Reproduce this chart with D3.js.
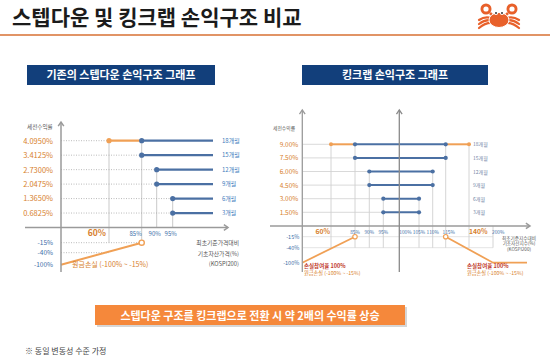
<!DOCTYPE html>
<html><head><meta charset="utf-8">
<script src="https://cdn.jsdelivr.net/npm/d3@7"></script>
<style>
body{margin:0;background:#fff;}
svg{display:block;font-family:"Noto Sans CJK KR","Noto Sans",sans-serif;}
</style></head>
<body><svg id="c" width="550" height="361"></svg>
<script>
// ---------- data ----------
const titleText = "스텝다운 및 킹크랩 손익구조 비교";
const leftHeader = "기존의 스텝다운 손익구조 그래프";
const rightHeader = "킹크랩 손익구조 그래프";
const bottomMessage = "스텝다운 구조를 킹크랩으로 전환 시 약 2배의 수익률 상승";
const footnote = "※ 동일 변동성 수준 가정";

const months = ["18개월","15개월","12개월","9개월","6개월","3개월"];

// left (step-down)
const leftYields = [4.095, 3.4125, 2.73, 2.0475, 1.365, 0.6825];
const leftYieldLabels = ["4.0950%","3.4125%","2.7300%","2.0475%","1.3650%","0.6825%"];
const leftBarrier = [85, 85, 90, 90, 95, 95];
const leftKnockIn = 60;
const leftLineEnd = 120;
const leftXTicks = [60, 85, 90, 95];
const lossLevels = [-15, -40, -100];
const leftLoss = [[0, -100], [85, -15]];

// right (king crab)
const rightYields = [9, 7.5, 6, 4.5, 3, 1.5];
const rightYieldLabels = ["9.00%","7.50%","6.00%","4.50%","3.00%","1.50%"];
const rightLow = [85, 85, 90, 90, 95, 95];
const rightHigh = [115, 115, 110, 110, 105, 105];
const rightKnockLow = 60, rightKnockHigh = 140;
const rightXTicks = [60, 85, 90, 95, 100, 105, 110, 115, 140, 200];
const rightLossLeft = [[0, -100], [85, -15]];
const rightLossRight = [[115, -15], [200, -100], [230, -100]];

// ---------- style ----------
const C = {
  orange:"#f0a055", ylab:"#d7812e", blue:"#4b70a3", grid:"#c9c9c9", axis:"#9a9a9a",
  navy:"#123f7b", month:"#3f7dbd", neg:"#3d6ea8", red:"#c0392b", text:"#333"
};
const svg = d3.select("#c");
const F = '"Noto Sans CJK KR","Noto Sans",sans-serif';

// title
svg.append("text").attr("x",12).attr("y",25).attr("font-size",21).attr("font-weight","bold")
  .attr("fill","#1b1b1b").text(titleText);
svg.append("line").attr("x1",0).attr("x2",550).attr("y1",35).attr("y2",35)
  .attr("stroke","#e19466").attr("stroke-width",2.2);

// crab logo
(function(){
  const g = svg.append("g").attr("transform","translate(499,16)");
  const col="#e8602a";
  [-1,1].forEach(s=>{
    [0,4,8].forEach((dy,i)=>{
      g.append("path").attr("d",`M${s*8},${2+dy*0.6} q${s*6},${-2+i} ${s*12},${2+dy*0.4}`)
        .attr("fill","none").attr("stroke",col).attr("stroke-width",2.2).attr("stroke-linecap","round");
    });
    g.append("circle").attr("cx",s*13).attr("cy",-7).attr("r",5.5).attr("fill",col);
    g.append("circle").attr("cx",s*13).attr("cy",-7).attr("r",2.6).attr("fill","#fff");
    g.append("line").attr("x1",s*9).attr("y1",-3).attr("x2",s*5).attr("y2",1).attr("stroke",col).attr("stroke-width",2.5);
  });
  g.append("ellipse").attr("cx",0).attr("cy",4).attr("rx",10).attr("ry",7.5).attr("fill",col)
    .attr("stroke","#fff").attr("stroke-width",1);
  g.append("circle").attr("cx",-3).attr("cy",-3).attr("r",2).attr("fill","#fff");
  g.append("circle").attr("cx",3).attr("cy",-3).attr("r",2).attr("fill","#fff");
  g.append("circle").attr("cx",-3).attr("cy",-3).attr("r",1).attr("fill","#333");
  g.append("circle").attr("cx",3).attr("cy",-3).attr("r",1).attr("fill","#333");
})();

// headers
function header(x0,x1,txt){
  svg.append("rect").attr("x",x0).attr("y",65).attr("width",x1-x0).attr("height",20).attr("fill",C.navy);
  svg.append("text").attr("x",(x0+x1)/2).attr("y",79).attr("text-anchor","middle")
    .attr("font-size",11).attr("font-weight","bold").attr("fill","#fff").text(txt);
}
header(27,215,leftHeader);
header(302,488,rightHeader);

function arrowLine(x1,y1,x2,y2,color,w){
  svg.append("line").attr("x1",x1).attr("y1",y1).attr("x2",x2).attr("y2",y2)
    .attr("stroke",color).attr("stroke-width",w);
  const a = Math.atan2(y2-y1,x2-x1), L=5;
  const p = [[x2-L*Math.cos(a-0.6), y2-L*Math.sin(a-0.6)],[x2,y2],[x2-L*Math.cos(a+0.6), y2-L*Math.sin(a+0.6)]];
  svg.append("path").attr("d",d3.line()(p)).attr("fill","none").attr("stroke",color).attr("stroke-width",w);
}

// ================= LEFT CHART =================
const xL = d3.scaleLinear().domain([0,60,85,90,95,leftLineEnd]).range([61,109,141.7,156.7,172.7,213]);
const yL = d3.scaleLinear().domain([-100,-40,-15,0,4.095]).range([264.7,252.7,242.7,227.5,140.7]);
const gL = svg.append("g");

leftXTicks.forEach(t=>{
  const rows = leftBarrier.map((b,i)=>b===t?i:-1).filter(i=>i>=0);
  let top = rows.length? yL(leftYields[rows[0]]) : yL(leftYields[0]);
  let bottom = yL(0);
  if(t===leftKnockIn){ top=yL(leftYields[0]); bottom=yL(-15); }
  if(t===85){ bottom=yL(-15); }
  gL.append("line").attr("x1",xL(t)).attr("x2",xL(t)).attr("y1",top).attr("y2",bottom)
    .attr("stroke",C.grid).attr("stroke-width",1);
});
leftYields.forEach((v,i)=>{
  const x2 = i===0 ? xL(leftKnockIn) : xL(leftBarrier[i]);
  gL.append("line").attr("x1",xL(0)).attr("x2",x2).attr("y1",yL(v)).attr("y2",yL(v))
    .attr("stroke","#aaa").attr("stroke-dasharray","1,1.5").attr("stroke-width",0.8);
});
[[-15,85],[-40,60]].forEach(([lv,xe])=>{
  gL.append("line").attr("x1",xL(0)).attr("x2",xL(xe)).attr("y1",yL(lv)).attr("y2",yL(lv))
    .attr("stroke","#aaa").attr("stroke-dasharray","1,1.5").attr("stroke-width",0.8);
});
arrowLine(25,yL(0),228,yL(0),C.axis,1.5);
arrowLine(xL(0),272,xL(0),122,C.axis,1.5);

gL.append("line").attr("x1",xL(leftKnockIn)).attr("x2",xL(leftBarrier[0])).attr("y1",yL(leftYields[0])).attr("y2",yL(leftYields[0]))
  .attr("stroke",C.orange).attr("stroke-width",2.2);
gL.append("circle").attr("cx",xL(leftKnockIn)).attr("cy",yL(leftYields[0])).attr("r",2.6).attr("fill",C.orange);
leftYields.forEach((v,i)=>{
  gL.append("line").attr("x1",xL(leftBarrier[i])).attr("x2",xL(leftLineEnd)).attr("y1",yL(v)).attr("y2",yL(v))
    .attr("stroke",C.blue).attr("stroke-width",2.2);
  gL.append("circle").attr("cx",xL(leftBarrier[i])).attr("cy",yL(v)).attr("r",2.6).attr("fill",C.blue);
  gL.append("text").attr("x",xL(leftLineEnd)+9).attr("y",yL(v)+2).attr("font-size",6).attr("fill",C.month).text(months[i]);
});
gL.append("g").attr("transform",`translate(${xL(0)},0)`)
  .call(d3.axisLeft(yL).tickValues(leftYields).tickSize(0).tickPadding(8).tickFormat((d,i)=>leftYieldLabels[i]))
  .call(g=>g.select(".domain").remove())
  .selectAll("text").attr("font-family",F).attr("font-size",7.5).attr("fill",C.ylab);
gL.append("g").attr("transform",`translate(${xL(0)},0)`)
  .call(d3.axisLeft(yL).tickValues(lossLevels).tickSize(0).tickPadding(8).tickFormat(d=>d+"%"))
  .call(g=>g.select(".domain").remove())
  .selectAll("text").attr("font-family",F).attr("font-size",6.5).attr("fill",C.neg);
leftXTicks.forEach(t=>{
  const big = t===leftKnockIn;
  gL.append("text").attr("x",xL(t)+(big?-3:(t===85?0:-2))).attr("y",yL(0)+8)
    .attr("text-anchor",big||t===85?"end":"middle")
    .attr("font-size",big?8.5:6).attr("font-weight",big?"bold":"normal")
    .attr("fill",big?C.ylab:C.neg).text(t+"%");
});
gL.append("path").attr("d",d3.line().x(d=>xL(d[0])).y(d=>yL(d[1]))(leftLoss))
  .attr("fill","none").attr("stroke",C.orange).attr("stroke-width",2);
gL.append("circle").attr("cx",xL(85)).attr("cy",yL(-15)).attr("r",2.6).attr("fill","#fff")
  .attr("stroke",C.orange).attr("stroke-width",1.4);
gL.append("text").attr("x",72).attr("y",yL(-100)+2.5).attr("font-size",7).attr("fill",C.ylab).text("원금손실 (-100% ~ -15%)");
["최초기준가격대비","기초자산가격(%)","(KOSPI200)"].forEach((s,i)=>{
  gL.append("text").attr("x",239).attr("y",245+i*10.5).attr("text-anchor","end").attr("font-size",5.8).attr("fill","#555").text(s);
});
gL.append("text").attr("x",27).attr("y",129).attr("font-size",5.6).attr("fill","#555").text("세전수익률");

// ================= RIGHT CHART =================
const xR = d3.scaleLinear().domain([0,60,85,90,95,100,105,110,115,140,200,230])
  .range([302.3,331,355,369.3,383.3,399.3,419,432.7,445.7,469,493,527]);
const yR = d3.scaleLinear().domain([-100,-40,-15,0,9]).range([262.7,247.7,236.7,225.9,144.3]);
const gR = svg.append("g");

[-15,-40].forEach(lv=>{
  gR.append("line").attr("x1",xR(0)).attr("x2",xR(200)).attr("y1",yR(lv)).attr("y2",yR(lv))
    .attr("stroke","#dcdcdc").attr("stroke-width",0.8);
});
rightXTicks.forEach(t=>{
  if(t===100) return;
  let idx = rightLow.indexOf(t); if(idx<0) idx = rightHigh.indexOf(t);
  let top = idx>=0 ? yR(rightYields[idx]) : yR(rightYields[0]);
  if(t===200) top = yR(0);
  gR.append("line").attr("x1",xR(t)).attr("x2",xR(t)).attr("y1",top).attr("y2",yR(-40))
    .attr("stroke",C.grid).attr("stroke-width",0.8);
});
rightYields.forEach((v,i)=>{
  const x2 = i===0 ? xR(rightKnockLow) : xR(rightLow[i]);
  gR.append("line").attr("x1",xR(0)).attr("x2",x2).attr("y1",yR(v)).attr("y2",yR(v))
    .attr("stroke","#cfcfcf").attr("stroke-width",0.8);
});
arrowLine(270,yR(0),530,yR(0),C.axis,1.5);
arrowLine(xR(0),272,xR(0),110,C.axis,1.3);
arrowLine(xR(100),272,xR(100),110,"#8a8a8a",1.3);

[[rightKnockLow,rightLow[0],rightKnockLow],[rightHigh[0],rightKnockHigh,rightKnockHigh]].forEach(([a,b,dot])=>{
  gR.append("line").attr("x1",xR(a)).attr("x2",xR(b)).attr("y1",yR(rightYields[0])).attr("y2",yR(rightYields[0]))
    .attr("stroke",C.orange).attr("stroke-width",2);
  gR.append("circle").attr("cx",xR(dot)).attr("cy",yR(rightYields[0])).attr("r",2).attr("fill",C.orange);
});
rightYields.forEach((v,i)=>{
  gR.append("line").attr("x1",xR(rightLow[i])).attr("x2",xR(rightHigh[i])).attr("y1",yR(v)).attr("y2",yR(v))
    .attr("stroke",C.blue).attr("stroke-width",2);
  [rightLow[i],rightHigh[i]].forEach(p=>gR.append("circle").attr("cx",xR(p)).attr("cy",yR(v)).attr("r",2.1).attr("fill",C.blue));
  gR.append("text").attr("x",473).attr("y",yR(v)+2).attr("font-size",5).attr("fill","#6f86a6").text(months[i]);
});
gR.append("g").attr("transform",`translate(${xR(0)},0)`)
  .call(d3.axisLeft(yR).tickValues(rightYields).tickSize(0).tickPadding(4).tickFormat((d,i)=>rightYieldLabels[i]))
  .call(g=>g.select(".domain").remove())
  .selectAll("text").attr("font-family",F).attr("font-size",6.5).attr("fill",C.ylab);
gR.append("g").attr("transform",`translate(${xR(0)},0)`)
  .call(d3.axisLeft(yR).tickValues(lossLevels).tickSize(0).tickPadding(3).tickFormat(d=>d+"%"))
  .call(g=>g.select(".domain").remove())
  .selectAll("text").attr("font-family",F).attr("font-size",5.5).attr("fill",C.neg);
rightXTicks.forEach(t=>{
  const big = t===rightKnockLow || t===rightKnockHigh;
  let anchor="middle", dx=0;
  if(t===rightKnockLow){anchor="end";dx=-1;}
  if(t===rightKnockHigh||t===100){anchor="start";dx=0;}
  if(t===200){anchor="start";dx=-1;}
  if(t===115){dx=3;}
  gR.append("text").attr("x",xR(t)+dx).attr("y",yR(0)+8).attr("text-anchor",anchor)
    .attr("font-size",big?6.8:4.8).attr("font-weight",big?"bold":"normal")
    .attr("fill",big?C.ylab:C.neg).text(t+"%");
});
[rightLossLeft,rightLossRight].forEach(seg=>{
  gR.append("path").attr("d",d3.line().x(d=>xR(d[0])).y(d=>yR(d[1]))(seg))
    .attr("fill","none").attr("stroke",C.orange).attr("stroke-width",1.8);
});
[85,115].forEach(p=>gR.append("circle").attr("cx",xR(p)).attr("cy",yR(-15)).attr("r",2.2).attr("fill","#fff")
  .attr("stroke",C.orange).attr("stroke-width",1.2));
[[304],[467]].forEach(([x])=>{
  gR.append("text").attr("x",x).attr("y",268).attr("font-size",5.5).attr("font-weight","bold").attr("fill",C.red).text("손실참여율 100%");
  gR.append("text").attr("x",x).attr("y",274.5).attr("font-size",5.2).attr("fill",C.ylab).text("원금손실 (-100% ~ -15%)");
});
["최초기준지수대비","기초자산지수(%)","(KOSPI200)"].forEach((s,i)=>{
  gR.append("text").attr("x",519).attr("y",240+i*5.3).attr("text-anchor","middle").attr("font-size",4.6).attr("fill","#555").text(s);
});
gR.append("text").attr("x",273).attr("y",130).attr("font-size",4.8).attr("fill","#555").text("세전수익률");

// bottom message
svg.append("rect").attr("x",97).attr("y",307).attr("width",310).attr("height",20).attr("fill","#bbb").attr("opacity",0.6);
svg.append("rect").attr("x",95).attr("y",305).attr("width",310).attr("height",20).attr("fill","#f5883b");
svg.append("text").attr("x",250).attr("y",319.5).attr("text-anchor","middle").attr("font-size",11)
  .attr("font-weight","bold").attr("fill","#fff").text(bottomMessage);
svg.append("text").attr("x",25).attr("y",354).attr("font-size",8).attr("fill","#444").text(footnote);
</script></body></html>
